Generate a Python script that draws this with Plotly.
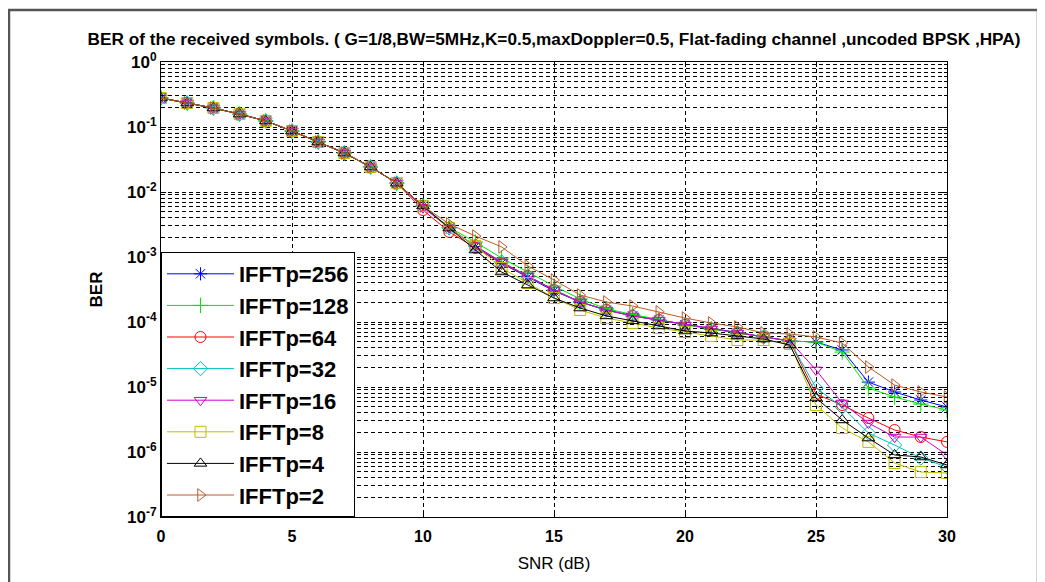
import plotly.graph_objects as go

snr = list(range(0, 31))

ber_256 = [0.279, 0.234, 0.196, 0.158, 0.124, 0.0868, 0.0588, 0.0398, 0.0243, 0.0137,
           0.0061, 0.00279, 0.00145, 8.0e-4, 4.9e-4, 3.0e-4, 2.03e-4, 1.53e-4, 1.24e-4, 1.07e-4,
           9.0e-5, 7.8e-5, 6.78e-5, 5.88e-5, 5.1e-5, 4.92e-5, 3.71e-5, 1.19e-5, 8.38e-6, 6.31e-6, 4.92e-6]
ber_128 = [0.279, 0.234, 0.196, 0.158, 0.124, 0.0868, 0.0588, 0.0398, 0.0243, 0.0137,
           0.0061, 0.00285, 0.0017, 9.66e-4, 5.88e-4, 3.58e-4, 2.26e-4, 1.6e-4, 1.3e-4, 1.1e-4,
           9.0e-5, 7.8e-5, 6.78e-5, 5.88e-5, 5.1e-5, 4.92e-5, 3.45e-5, 9.66e-6, 7.02e-6, 5.47e-6, 4.43e-6]
ber_64 = [0.279, 0.234, 0.196, 0.158, 0.124, 0.0868, 0.0588, 0.0398, 0.0243, 0.0137,
          0.00528, 0.00243, 0.00138, 8.0e-4, 5.1e-4, 3.11e-4, 2.03e-4, 1.53e-4, 1.24e-4, 1.07e-4,
          9.0e-5, 7.8e-5, 6.78e-5, 5.88e-5, 5.1e-5, 7.8e-6, 5.28e-6, 3.33e-6, 2.18e-6, 1.7e-6, 1.43e-6]
ber_32 = [0.279, 0.234, 0.196, 0.158, 0.124, 0.0868, 0.0588, 0.0398, 0.0243, 0.0137,
          0.0061, 0.00279, 0.00148, 8.38e-4, 5.1e-4, 3.11e-4, 2.03e-4, 1.53e-4, 1.24e-4, 1.07e-4,
          9.0e-5, 7.8e-5, 6.78e-5, 5.88e-5, 5.1e-5, 9.66e-6, 4.92e-6, 1.96e-6, 1.28e-6, 8.09e-7, 5.88e-7]
ber_16 = [0.279, 0.234, 0.196, 0.158, 0.124, 0.0868, 0.0588, 0.0398, 0.0243, 0.0137,
          0.0058, 0.00279, 0.00148, 8.38e-4, 5.1e-4, 3.11e-4, 2.03e-4, 1.53e-4, 1.24e-4, 1.07e-4,
          9.0e-5, 7.8e-5, 6.78e-5, 5.88e-5, 5.1e-5, 1.83e-5, 5.68e-6, 2.79e-6, 1.7e-6, 1.7e-6, 9.0e-7]
ber_8 = [0.279, 0.234, 0.196, 0.158, 0.124, 0.0868, 0.0588, 0.0398, 0.0243, 0.0137,
         0.0061, 0.00279, 0.00148, 6.78e-4, 3.98e-4, 2.34e-4, 1.53e-4, 1.15e-4, 9.66e-5, 8.09e-5,
         7.02e-5, 6.1e-5, 5.28e-5, 5.28e-5, 4.59e-5, 5.28e-6, 2.34e-6, 1.43e-6, 6.78e-7, 4.92e-7, 4.75e-7]
ber_4 = [0.279, 0.234, 0.196, 0.158, 0.124, 0.0868, 0.0588, 0.0398, 0.0243, 0.0137,
         0.0061, 0.00279, 0.00128, 5.88e-4, 3.71e-4, 2.34e-4, 1.64e-4, 1.24e-4, 1.04e-4, 8.68e-5,
         7.27e-5, 6.78e-5, 6.1e-5, 5.47e-5, 4.43e-5, 6.78e-6, 3.11e-6, 1.64e-6, 9.0e-7, 8.38e-7, 6.31e-7]
ber_2 = [0.279, 0.234, 0.196, 0.158, 0.124, 0.0868, 0.0588, 0.0398, 0.0243, 0.0137,
         0.0061, 0.00322, 0.0021, 1.43e-3, 7.27e-4, 4.43e-4, 2.6e-4, 2.03e-4, 1.76e-4, 1.43e-4,
         1.15e-4, 9.66e-5, 8.38e-5, 6.78e-5, 6.54e-5, 5.88e-5, 4.75e-5, 2.03e-5, 1.07e-5, 8.38e-6, 7.02e-6]

series_names = ["IFFTp=256", "IFFTp=128", "IFFTp=64", "IFFTp=32",
                "IFFTp=16", "IFFTp=8", "IFFTp=4", "IFFTp=2"]
series_values = [ber_256, ber_128, ber_64, ber_32, ber_16, ber_8, ber_4, ber_2]
series_colors = ["#0000ff", "#00e600", "#ff0000", "#00c0c0",
                 "#cc00cc", "#bfbf00", "#000000", "#be5a28"]
series_symbols = ["asterisk-open", "cross-thin-open", "circle-open", "diamond-open",
                  "triangle-down-open", "square-open", "triangle-up-open", "triangle-right-open"]

x_ticks = [0, 5, 10, 15, 20, 25, 30]
y_tickvals = [1e0, 1e-1, 1e-2, 1e-3, 1e-4, 1e-5, 1e-6, 1e-7]
y_ticktext = ["10<sup>0</sup>", "10<sup>-1</sup>", "10<sup>-2</sup>", "10<sup>-3</sup>",
              "10<sup>-4</sup>", "10<sup>-5</sup>", "10<sup>-6</sup>", "10<sup>-7</sup>"]

FONT = "Liberation Sans, Arial, sans-serif"

fig = go.Figure()
for name, vals, col, sym in zip(series_names, series_values, series_colors, series_symbols):
    fig.add_trace(go.Scatter(
        x=snr, y=vals, name=name, mode="lines+markers", legendgroup=name,
        line=dict(color=col, width=1),
        marker=dict(symbol=sym, size=11, color=col, line=dict(color=col, width=1)),
    ))

# page body has an 8px margin, so the figure is 8px smaller than the window
fig.update_layout(
    width=1037, height=574,
    margin=dict(l=153, r=98, t=54, b=65),
    paper_bgcolor="white", plot_bgcolor="white",
    font=dict(family=FONT, color="black"),
    title=dict(
        text="BER of the received symbols. ( G=1/8,BW=5MHz,K=0.5,maxDoppler=0.5, Flat-fading channel ,uncoded BPSK ,HPA)",
        x=0.5, xref="paper", xanchor="center", y=0.946, yref="container", yanchor="middle",
        font=dict(size=17.2, weight="bold", color="black", family=FONT),
    ),
    legend=dict(
        x=0, y=0, xanchor="left", yanchor="bottom",
        bgcolor="white", bordercolor="black", borderwidth=1,
        font=dict(size=22, weight="bold", color="black", family=FONT),
        itemwidth=67, tracegroupgap=0,
    ),
    showlegend=True,
)

fig.update_xaxes(
    range=[0, 30], tickvals=x_ticks, ticks="inside", ticklen=5, tickcolor="black",
    showline=True, linecolor="black", linewidth=1, mirror="ticks",
    showgrid=True, gridcolor="black", gridwidth=1, griddash="4px,3px",
    zeroline=False, ticklabelstandoff=5,
    tickfont=dict(size=16, weight="bold", family=FONT),
    title=dict(text="SNR (dB)", font=dict(size=17, family=FONT), standoff=12),
)
fig.update_yaxes(
    type="log", range=[-7, 0], tickvals=y_tickvals, ticktext=y_ticktext,
    ticks="inside", ticklen=5, tickcolor="black",
    showline=True, linecolor="black", linewidth=1, mirror="ticks",
    showgrid=True, gridcolor="black", gridwidth=1, griddash="4px,3px",
    minor=dict(ticks="inside", ticklen=3, tickcolor="black", showgrid=True,
               gridcolor="black", gridwidth=1, griddash="4px,3px", dtick="D1"),
    zeroline=False,
    tickfont=dict(size=17, weight="bold", family=FONT),
    title=dict(text="BER", font=dict(size=17, weight="bold", family=FONT), standoff=20),
)

fig.add_shape(type="rect", xref="paper", yref="paper",
              x0=-0.1934, x1=1.1158, y0=-0.156, y1=1.1143,
              line=dict(color="#555555", width=2.5), fillcolor="rgba(0,0,0,0)", layer="below")

fig.write_html("out.html")
